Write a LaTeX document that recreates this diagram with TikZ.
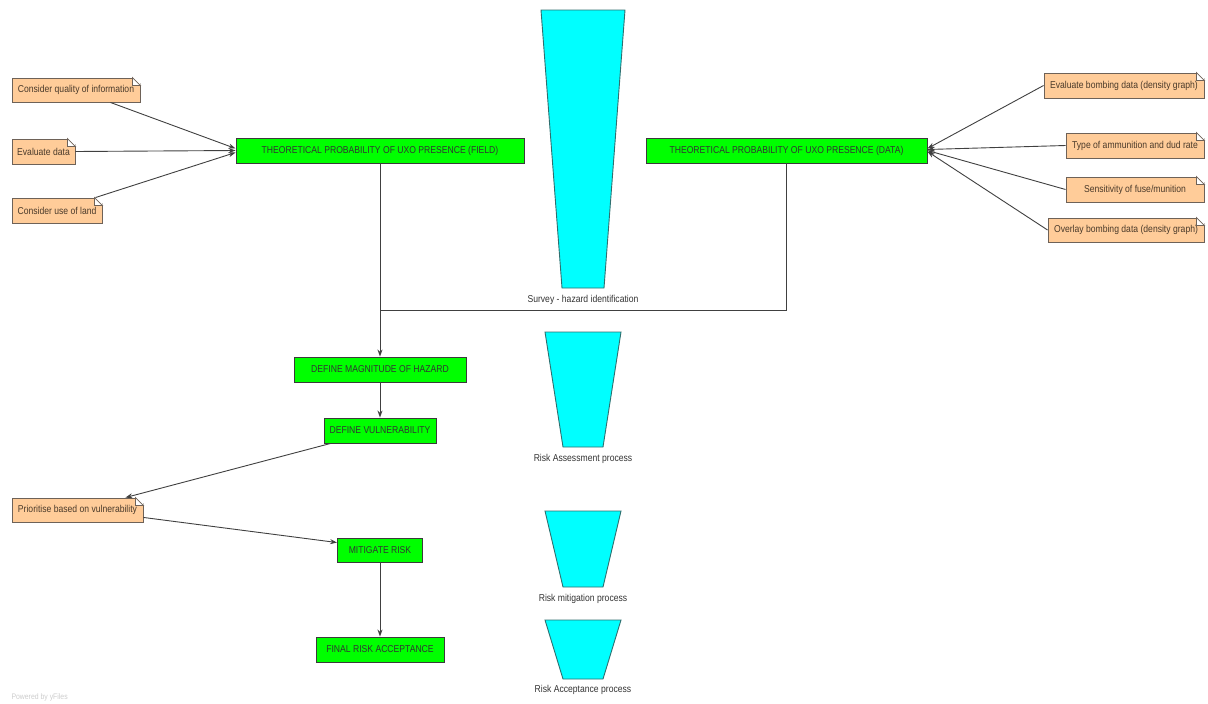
\documentclass[tikz,border=0pt]{standalone}
\usepackage{fontspec}
\setmainfont[FakeStretch=0.86]{Liberation Sans}
\usetikzlibrary{arrows.meta}
\definecolor{boxgreen}{HTML}{00FF00}
\definecolor{boxedge}{HTML}{3A3A3A}
\definecolor{notefill}{HTML}{FFCC99}
\definecolor{noteedge}{HTML}{6E6258}
\definecolor{notetext}{HTML}{4A3A2A}
\definecolor{funnelfill}{HTML}{00FFFF}
\definecolor{funneledge}{HTML}{2F6F6F}
\tikzset{
  stepbox/.style={draw=boxedge, line width=0.9pt, fill=boxgreen, minimum height=25pt, inner sep=0pt,
    text=black!80, font=\fontsize{10}{12}\selectfont},
  notebox/.style={draw=noteedge, line width=0.9pt, fill=notefill, minimum height=25pt, inner sep=0pt,
    text=notetext, font=\fontsize{10}{12}\selectfont},
  funnel/.style={draw=funneledge, line width=0.9pt, fill=funnelfill},
  funnellabel/.style={text=black!80, font=\fontsize{10}{12}\selectfont},
  link/.style={draw=black!75, line width=0.9pt, -{Stealth[length=7pt,width=5pt]}}
}
\begin{document}
\begin{tikzpicture}[x=1pt,y=-1pt]
			\useasboundingbox (0,0) rectangle (1208,704);
			% main steps
			\node[stepbox, minimum width=288pt] (field) at (380,150.5) {THEORETICAL PROBABILITY OF UXO PRESENCE (FIELD)};
			\node[stepbox, minimum width=281pt] (data) at (786.5,150.5) {THEORETICAL PROBABILITY OF UXO PRESENCE (DATA)};
			\node[stepbox, minimum width=172pt] (mag) at (380,369.5) {DEFINE MAGNITUDE OF HAZARD};
			\node[stepbox, minimum width=112pt] (vul) at (380,430.5) {DEFINE VULNERABILITY};
			\node[stepbox, minimum width=85pt, minimum height=24pt] (mit) at (380,550) {MITIGATE RISK};
			\node[stepbox, minimum width=128pt] (final) at (380,649.5) {FINAL RISK ACCEPTANCE};
			% notes
			\node[notebox, minimum width=128pt, minimum height=24pt] (qual) at (76,90) {Consider quality of information};
			\node[notebox, minimum width=63pt] (evdata) at (43.5,151.5) {Evaluate data};
			\node[notebox, minimum width=90pt] (land) at (57,210.5) {Consider use of land};
			\node[notebox, minimum width=160pt] (bomb) at (1124,85.5) {Evaluate bombing data (density graph)};
			\node[notebox, minimum width=138pt] (ammo) at (1135,145.5) {Type of ammunition and dud rate};
			\node[notebox, minimum width=138pt] (fuse) at (1135,189.5) {Sensitivity of fuse/munition};
			\node[notebox, minimum width=156pt, minimum height=24pt] (overlay) at (1126,230) {Overlay bombing data (density graph)};
			\node[notebox, minimum width=131pt, minimum height=24pt] (prio) at (77.5,510) {Prioritise based on vulnerability};
			\foreach \n in {qual,evdata,land,bomb,ammo,fuse,overlay,prio} {
				\fill[white] ([xshift=-8pt]\n.north east) -- ([xshift=1pt,yshift=1pt]\n.north east) -- ([yshift=-8pt]\n.north east) -- cycle;
				\filldraw[draw=noteedge, line width=0.8pt, fill=white] ([xshift=-8pt]\n.north east) -- ([xshift=-8pt,yshift=-8pt]\n.north east) -- ([yshift=-8pt]\n.north east) -- cycle;
			}
			% funnels
			\filldraw[funnel] (541,10) -- (625,10) -- (604,288) -- (562,288) -- cycle;
			\node[funnellabel] (lsurvey) at (583,300) {Survey - hazard identification};
			\foreach \t/\b/\y/\lab/\nm in {332/447/459/Risk Assessment process/lassess,
				511/587/599/Risk mitigation process/lmitig,
				620/679/690/Risk Acceptance process/laccept} {
				\filldraw[funnel] (545,\t) -- (621,\t) -- (603,\b) -- (563,\b) -- cycle;
				\node[funnellabel] (\nm) at (583,\y) {\lab};
			}
			% connectors
			\coordinate (join) at (380,310);
			\draw[link] ([xshift=-30pt]qual.south east) -- ([yshift=2pt]field.west);
			\draw[link] (evdata.east) -- (field.west);
			\draw[link] ([xshift=-7pt]land.north east) -- ([yshift=-2pt]field.west);
			\draw[link] (bomb.west) -- ([yshift=2pt]data.east);
			\draw[link] (ammo.west) -- ([yshift=1pt]data.east);
			\draw[link] (fuse.west) -- (data.east);
			\draw[link] (overlay.west) -- ([yshift=-1pt]data.east);
			\draw[draw=black!75, line width=0.9pt] (data.south) |- (join);
			\draw[link] (field.south) -- (mag.north);
			\draw[link] (mag.south) -- (vul.north);
			\draw[link] ([xshift=7pt]vul.south west) -- ([xshift=-18pt]prio.north east);
			\draw[link] ([yshift=5pt]prio.south east) -- ([yshift=-5pt]mit.north west);
			\draw[link] (mit.south) -- (final.north);
			\node[text=black!20, font=\fontsize{8}{9}\selectfont, anchor=west] (powered) at (8,697) {Powered by yFiles};
		\end{tikzpicture}
\end{document}
